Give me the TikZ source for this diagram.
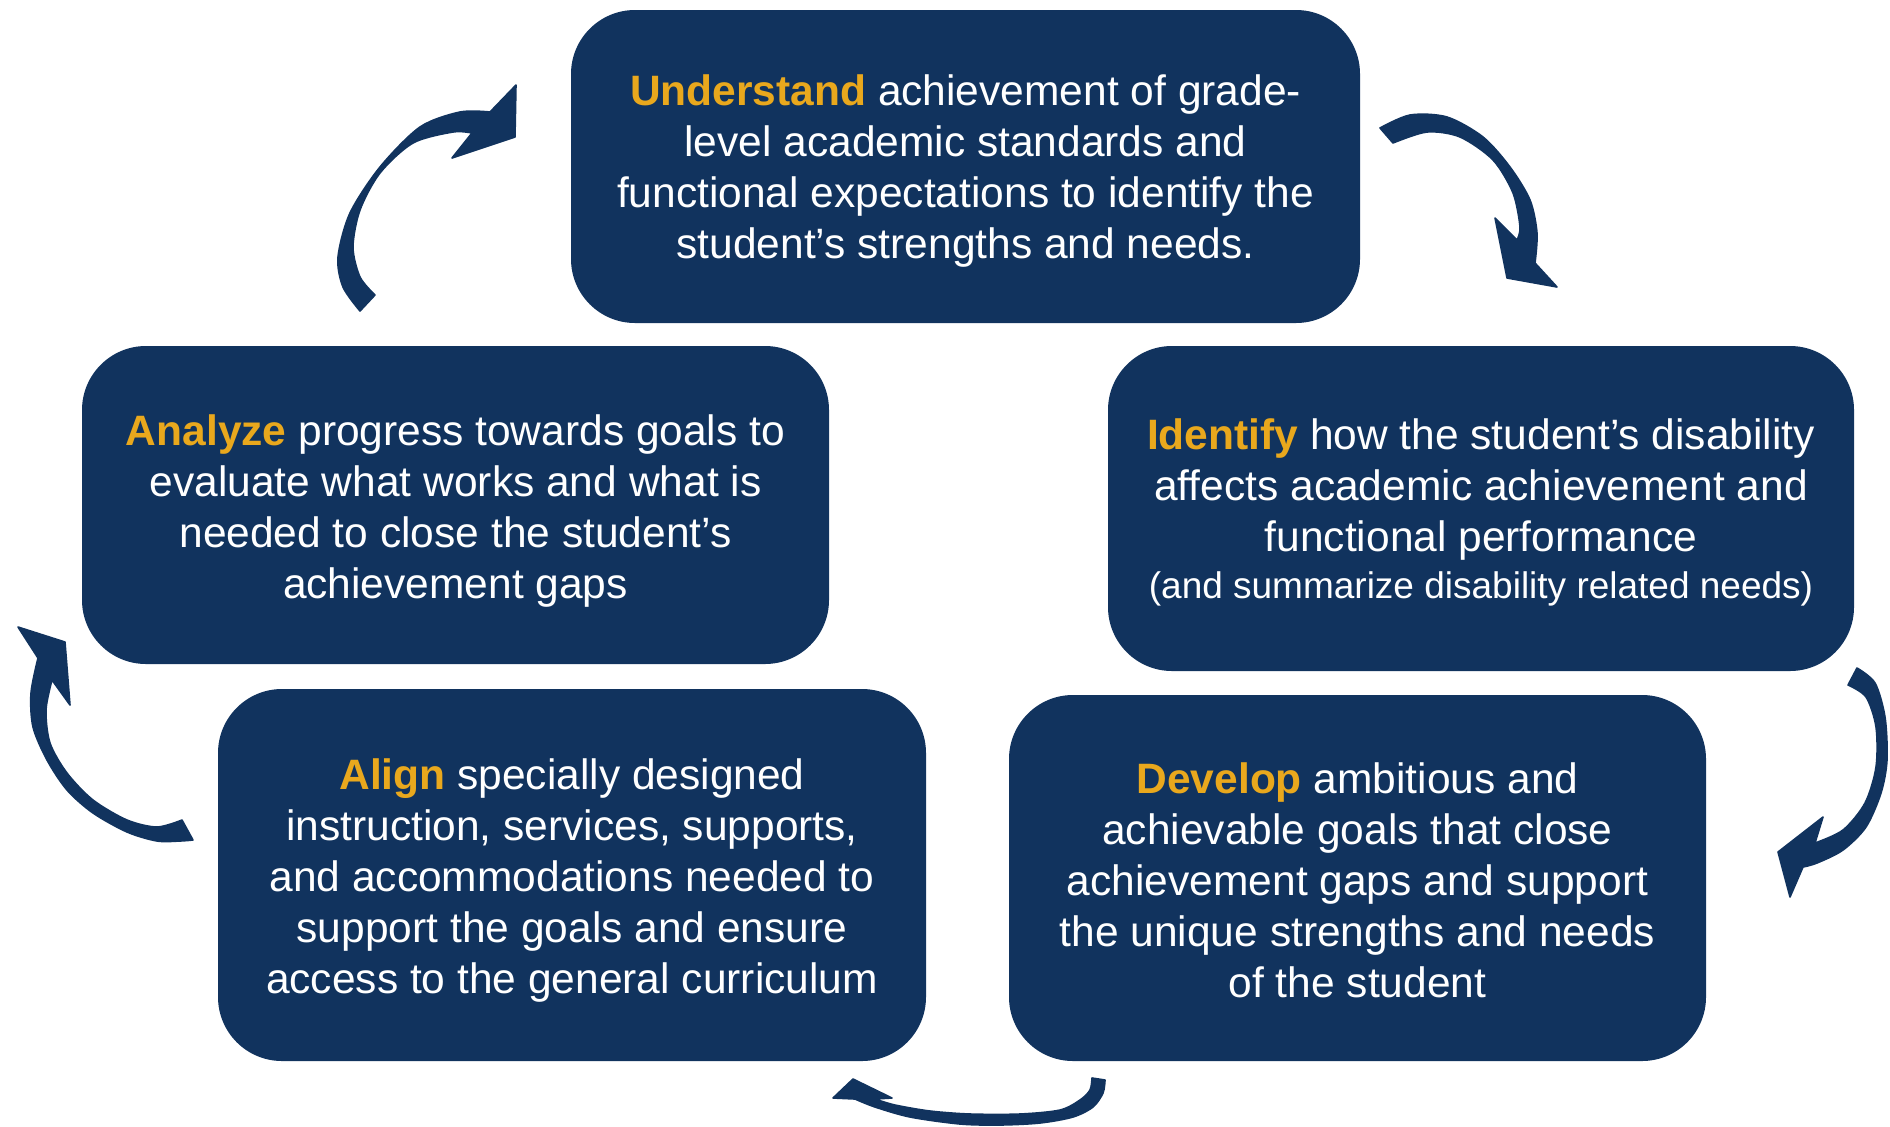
\documentclass[tikz,border=0pt]{standalone}
\usepackage{fontspec}
\setmainfont{Liberation Sans}
\definecolor{navy}{RGB}{17,51,94}
\definecolor{gold}{RGB}{233,168,29}
\newcommand{\hl}[1]{\textbf{\textcolor{gold}{#1}}}
\tikzset{
  stepbox/.style={rectangle, fill=navy, rounded corners=32pt, inner sep=0pt},
  steptext/.style={text=white, align=center, inner sep=0pt,
    font=\fontsize{21.25}{25.5}\selectfont},
  curvearrow/.style={fill=navy, draw=navy, line width=0.8pt, line join=round}
}
\begin{document}
\begin{tikzpicture}[x=0.5pt, y=-0.5pt]
\useasboundingbox (0,0) rectangle (1890,1126);

% the five steps of the cycle
\node[stepbox, minimum width=394.5pt, minimum height=156.5pt] (understand) at (965.5,166.5) {};
\node[stepbox, minimum width=373.5pt, minimum height=159pt] (analyze) at (455.5,505) {};
\node[stepbox, minimum width=373pt, minimum height=162.5pt] (identify) at (1481,508.5) {};
\node[stepbox, minimum width=354pt, minimum height=186pt] (align) at (572,875) {};
\node[stepbox, minimum width=348.5pt, minimum height=183pt] (develop) at (1357.5,878) {};

% their texts
\node[steptext] (understandtext) at ([yshift=-2.5pt]understand.center)
  {\hl{Understand} achievement of grade-\\level academic standards and\\functional expectations to identify the\\student’s strengths and needs.};
\node[steptext] (analyzetext) at ([yshift=-3pt]analyze.center)
  {\hl{Analyze} progress towards goals to\\evaluate what works and what is\\needed to close the student’s\\achievement gaps};
\node[steptext] (identifytext) at ([yshift=-2pt]identify.center)
  {\hl{Identify} how the student’s disability\\affects academic achievement and\\functional performance\\[-1.8pt]{\fontsize{18.5}{25.5}\selectfont (and summarize disability related needs)}};
\node[steptext] (aligntext) at ([yshift=-2.7pt]align.center)
  {\hl{Align} specially designed\\instruction, services, supports,\\and accommodations needed to\\support the goals and ensure\\access to the general curriculum};
\node[steptext] (developtext) at ([yshift=-1pt]develop.center)
  {\hl{Develop} ambitious and\\achievable goals that close\\achievement gaps and support\\the unique strengths and needs\\of the student};

% curved arrows between the steps
% analyze -> understand
\filldraw[curvearrow]
  plot[smooth] coordinates {(360,311) (343,287) (338,257) (350,213) (380,167) (420,127) (460,112) (490,112)}
  -- (516,85) -- (515,137) -- (452,158) -- (472,133)
  -- plot[smooth] coordinates {(472,133) (453,132) (413,143) (380,173) (360,210) (353,247) (360,277) (375,295)}
  -- cycle;
% understand -> identify
\filldraw[curvearrow]
  plot[smooth] coordinates {(1380,128) (1410,115) (1447,117) (1483,137) (1510,167) (1530,200) (1537,233) (1535,263)}
  -- (1557,287) -- (1507,278) -- (1495,218) -- (1517,240)
  -- plot[smooth] coordinates {(1517,240) (1520,227) (1513,193) (1493,160) (1460,137) (1427,132) (1393,143)}
  -- cycle;
% identify -> develop
\filldraw[curvearrow]
  plot[smooth] coordinates {(1857,668) (1875,683) (1885,717) (1887,760) (1881,793) (1866,827) (1843,850) (1817,863) (1803,867)}
  -- (1790,897) -- (1778,852) -- (1823,817) -- (1815,843)
  -- plot[smooth] coordinates {(1815,843) (1843,830) (1865,803) (1876,767) (1876,727) (1866,697) (1848,685)}
  -- cycle;
% develop -> align
\filldraw[curvearrow]
  plot[smooth] coordinates {(1105,1080) (1103,1093) (1093,1107) (1073,1117) (1040,1123) (1000,1125) (960,1124) (910,1117) (875,1107) (855,1099)}
  -- (833,1098) -- (853,1079) -- (892,1098) -- (875,1099)
  -- plot[smooth] coordinates {(875,1099) (895,1105) (930,1111) (970,1114) (1020,1114) (1060,1110) (1080,1100) (1090,1090) (1092,1078)}
  -- cycle;
% align -> analyze
\filldraw[curvearrow]
  plot[smooth] coordinates {(193,840) (180,841) (157,841) (127,832) (93,813) (67,790) (47,760) (33,727) (31,693) (38,658)}
  -- (18,627) -- (65,642) -- (70,705) -- (52,680)
  -- plot[smooth] coordinates {(52,680) (46,710) (50,743) (67,773) (93,800) (127,820) (157,827) (182,820)}
  -- cycle;
\end{tikzpicture}
\end{document}
